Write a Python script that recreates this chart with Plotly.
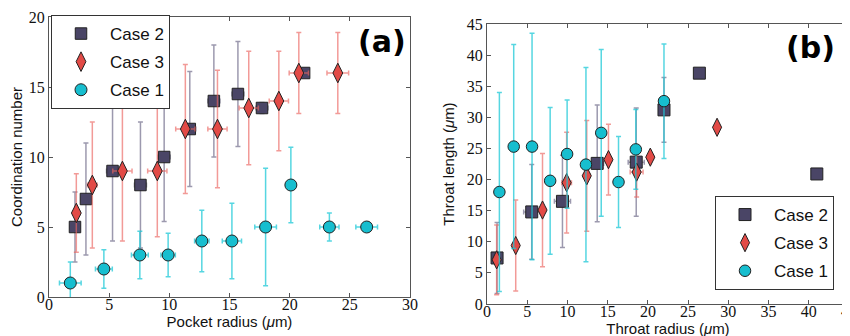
import plotly.graph_objects as go

# ---------------- Panel (a): pocket radius vs coordination number ----------------
a_case2_x = [2.16, 3.07, 5.28, 7.6, 9.57, 11.7, 13.7, 15.7, 17.7, 21.2]
a_case2_y = [5.0, 7.0, 9.0, 8.0, 10.0, 12.0, 14.0, 14.5, 13.5, 16.0]
a_case2_ey = [2.5, 4.0, 5.0, 4.5, 4.6, 4.1, 4.0, 3.75, 0.4, 0.0]
a_case2_ex = [0.4, 0.4, 0.5, 0.5, 0.5, 0.5, 0.5, 0.5, 0.5, 0.3]

a_case3_x = [2.27, 3.6, 6.1, 9.0, 11.33, 14.0, 16.6, 19.1, 20.76, 24.0]
a_case3_y = [6.0, 8.0, 9.0, 9.0, 12.0, 12.0, 13.5, 14.0, 16.0, 16.0]
a_case3_ey = [2.8, 4.5, 5.0, 4.7, 4.6, 4.2, 4.05, 3.55, 2.9, 2.9]
a_case3_ex = [0.3, 0.4, 0.8, 0.8, 0.8, 0.8, 0.8, 0.8, 0.8, 0.9]

a_case1_x = [1.77, 4.56, 7.55, 9.9, 12.7, 15.2, 18.0, 20.1, 23.3, 26.4]
a_case1_y = [1.0, 2.0, 3.0, 3.0, 4.0, 4.0, 5.0, 8.0, 5.0, 5.0]
a_case1_ey = [1.5, 1.37, 1.7, 1.55, 2.2, 2.7, 4.2, 2.7, 1.0, 0.0]
a_case1_ex = [0.9, 0.7, 0.7, 0.6, 0.6, 0.8, 0.9, 0.4, 0.8, 0.9]

# ---------------- Panel (b): throat radius vs throat length ----------------
b_case2_x = [1.25, 5.56, 9.38, 13.7, 18.55, 22.0, 26.4, 41.0]
b_case2_y = [7.4, 14.8, 16.5, 22.6, 22.8, 31.2, 37.1, 20.9]
b_case2_ey = [5.7, 7.6, 7.4, 9.4, 8.7, 5.2, 0.0, 0.0]
b_case2_ex = [0.4, 1.0, 1.0, 0.8, 1.0, 0.3, 0.0, 0.0]

b_case3_x = [1.2, 3.57, 6.9, 9.9, 12.4, 15.1, 18.6, 20.3, 28.6]
b_case3_y = [7.1, 9.4, 15.1, 19.5, 20.6, 23.2, 21.2, 23.6, 28.4]
b_case3_ey = [5.6, 7.3, 9.1, 8.1, 8.9, 5.7, 4.0, 0.0, 0.0]
b_case3_ex = [0.3, 0.4, 0.4, 0.6, 0.4, 0.4, 0.8, 0.4, 0.0]

b_case1_x = [1.54, 3.32, 5.6, 7.85, 9.96, 12.3, 14.2, 16.35, 18.5, 22.0]
b_case1_y = [18.0, 25.3, 25.3, 19.8, 24.1, 22.4, 27.5, 19.6, 24.85, 32.6]
b_case1_ey = [16.0, 16.4, 18.2, 11.8, 8.7, 15.6, 13.4, 7.3, 6.4, 9.2]
b_case1_ex = [0.2, 0.2, 0.2, 0.2, 0.2, 0.2, 0.2, 0.2, 0.2, 0.2]

series_names = ["Case 2", "Case 3", "Case 1"]

x_ticks_a = [0, 5, 10, 15, 20, 25, 30]
y_ticks_a = [0, 5, 10, 15, 20]
x_ticks_b = [0, 5, 10, 15, 20, 25, 30, 35, 40, 45]
y_ticks_b = [0, 5, 10, 15, 20, 25, 30, 35, 40, 45]

# ---------------- styles ----------------
C_SQ = "#4a4566"
C_DI = "#e24a46"
C_CI = "#17becf"
E_SQ = "rgba(90,85,120,0.6)"
E_DI = "rgba(235,100,95,0.65)"
E_CI = "rgba(30,200,215,0.75)"

W, H = 850, 336
def px_x(p):
    return p / W
def px_y(p):
    return 1 - p / H

fig = go.Figure()

def add(xs, ys, exs, eys, name, symbol, color, ecolor, size, xa, ya, legend, group):
    fig.add_trace(go.Scatter(
        x=xs, y=ys, mode="markers", name=name,
        xaxis=xa, yaxis=ya, legend=legend, showlegend=True, legendgroup=group,
        marker=dict(symbol=symbol, color=color, size=size,
                    line=dict(color="#222222", width=1)),
        error_y=dict(type="data", array=eys, visible=True, color=ecolor,
                     thickness=1.5, width=2.5),
        error_x=dict(type="data", array=exs, visible=True, color=ecolor,
                     thickness=1.5, width=2.5),
    ))

add(a_case2_x, a_case2_y, a_case2_ex, a_case2_ey, series_names[0], "square", C_SQ, E_SQ, 11.5, "x", "y", "legend", "a2")
add(a_case3_x, a_case3_y, a_case3_ex, a_case3_ey, series_names[1], "diamond-tall", C_DI, E_DI, 14, "x", "y", "legend", "a3")
add(a_case1_x, a_case1_y, a_case1_ex, a_case1_ey, series_names[2], "circle", C_CI, E_CI, 12, "x", "y", "legend", "a1")

add(b_case2_x, b_case2_y, b_case2_ex, b_case2_ey, series_names[0], "square", C_SQ, E_SQ, 12, "x2", "y2", "legend2", "b2")
add(b_case3_x, b_case3_y, b_case3_ex, b_case3_ey, series_names[1], "diamond-tall", C_DI, E_DI, 13, "x2", "y2", "legend2", "b3")
add(b_case1_x, b_case1_y, b_case1_ex, b_case1_ey, series_names[2], "circle", C_CI, E_CI, 11.5, "x2", "y2", "legend2", "b1")

tick_font = dict(family="Liberation Serif", size=16, color="#111111")
title_font = dict(family="Liberation Sans", size=15, color="#111111")
axis_common = dict(
    showline=True, linecolor="#555555", linewidth=1.2, mirror="allticks",
    ticks="inside", ticklen=4, tickcolor="#555555", tickwidth=1,
    showgrid=False, zeroline=False, tickfont=tick_font,
    automargin=False, ticklabeloverflow="allow",
)

leg_common = dict(
    bordercolor="#333333", borderwidth=1, bgcolor="white",
    font=dict(family="Liberation Sans", size=17, color="#111111"),
    itemwidth=48, tracegroupgap=3, traceorder="grouped",
)

fig.update_layout(
    template="none",
    width=W, height=H,
    margin=dict(l=0, r=0, t=0, b=0),
    paper_bgcolor="white", plot_bgcolor="white",
    xaxis=dict(domain=[px_x(41), px_x(402)], range=[0, 30], tickvals=x_ticks_a,
               ticklabelstandoff=-7,
               title=dict(text="Pocket radius (<i>μ</i>m)", font=title_font, standoff=0),
               anchor="y", **axis_common),
    yaxis=dict(domain=[px_y(289), px_y(9)], range=[0, 20], tickvals=y_ticks_a,
               title=dict(text="Coordination number", font=title_font, standoff=8),
               anchor="x", **axis_common),
    xaxis2=dict(domain=[px_x(479), px_x(841)], range=[0, 45], tickvals=x_ticks_b,
                ticklabelstandoff=-7,
                title=dict(text="Throat radius (<i>μ</i>m)", font=title_font, standoff=0),
                anchor="y2", **axis_common),
    yaxis2=dict(domain=[px_y(296), px_y(16)], range=[0, 45], tickvals=y_ticks_b,
                title=dict(text="Throat length (<i>μ</i>m)", font=title_font, standoff=8),
                anchor="x2", **axis_common),
    legend=dict(x=px_x(43), y=px_y(7), xanchor="left", yanchor="top", **leg_common),
    legend2=dict(x=px_x(826), y=px_y(282), xanchor="right", yanchor="bottom", **leg_common),
    annotations=[
        dict(text="<b>(a)</b>", x=px_x(374), y=px_y(34), xref="paper", yref="paper",
             showarrow=False, xanchor="center", yanchor="middle",
             font=dict(family="DejaVu Sans", size=30, color="#000000")),
        dict(text="<b>(b)</b>", x=px_x(802), y=px_y(39), xref="paper", yref="paper",
             showarrow=False, xanchor="center", yanchor="middle",
             font=dict(family="DejaVu Sans", size=30, color="#000000")),
    ],
)

fig.write_html("out.html")
